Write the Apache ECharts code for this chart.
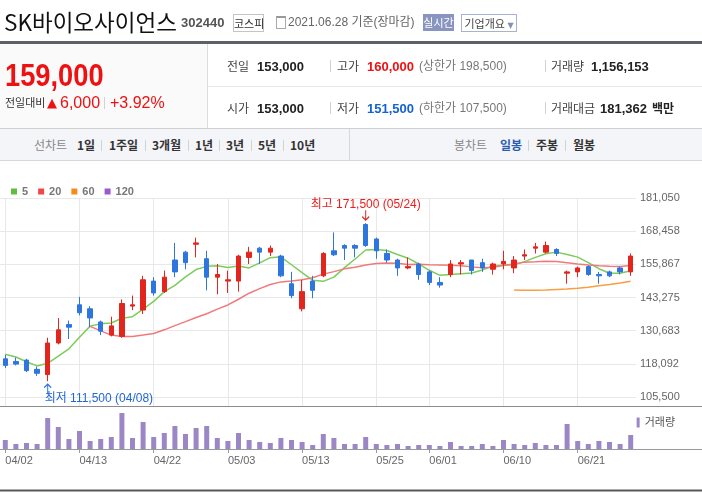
<!DOCTYPE html>
<html lang="ko">
<head>
<meta charset="utf-8">
<title>SK바이오사이언스 일봉 차트</title>
<script src="https://cdn.jsdelivr.net/npm/echarts@6/dist/echarts.min.js"></script>
<style>
html,body{margin:0;padding:0;background:#fff;}
body{position:relative;width:702px;height:493px;overflow:hidden;font-family:'Liberation Sans','Noto Sans CJK KR',sans-serif;color:#333;}
#chart{position:absolute;left:0;top:0;width:702px;height:493px;z-index:1;}
.box{position:absolute;z-index:2;}
.t{position:absolute;z-index:3;white-space:nowrap;line-height:1;}
.sep{position:absolute;z-index:3;width:1px;background:#d2d2d2;}
.b{font-weight:bold;}
.k{font-family:'Noto Sans CJK KR',sans-serif;}
</style>
</head>
<body>
<div id="chart"></div>

<!-- title row -->
<div class="t k" style="left:4px;top:10px;font-size:22.5px;color:#111;">SK바이오사이언스</div>
<div class="t b" style="left:181px;top:16px;font-size:13px;color:#555;">302440</div>
<div class="t k" style="left:233px;top:14px;width:29px;height:16px;border:1px solid #c4c4c4;font-size:11px;line-height:16px;text-align:center;color:#333;">코스피</div>
<div class="box" style="left:276px;top:16px;width:8px;height:10px;border:1px solid #aaa;border-top:2px solid #999;"></div>
<div class="t" style="left:288px;top:16px;font-size:12px;color:#666;">2021.06.28 기준(장마감)</div>
<div class="t k" style="left:423px;top:14px;width:31px;height:17px;background:#8995c0;font-size:11px;line-height:17px;text-align:center;color:#fff;">실시간</div>
<div class="t k" style="left:461px;top:14px;width:54px;height:16px;border:1px solid #a9b1d0;font-size:11px;line-height:16px;text-align:center;color:#444;">기업개요<span style="font-family:'DejaVu Sans';font-size:8px;color:#8890b0;"> ▼</span></div>
<div class="box" style="left:0;top:41px;width:702px;height:3px;background:#5d6067;"></div>

<!-- price block -->
<div class="box" style="left:0;top:44px;width:207px;height:84px;background:#fafafa;border-right:1px solid #dcdcdc;"></div>
<div class="t b" style="left:5px;top:60px;font-size:31px;color:#ee1111;transform:scaleX(0.88);transform-origin:left top;">159,000</div>
<div class="t k" style="left:5px;top:97px;font-size:11px;color:#333;">전일대비</div>
<div class="t" style="left:47px;top:96px;font-size:13px;color:#ee1111;font-family:'DejaVu Sans';">▲</div>
<div class="t" style="left:60px;top:95px;font-size:16px;color:#ee1111;">6,000</div>
<div class="sep" style="left:104px;top:97px;height:12px;"></div>
<div class="t" style="left:110px;top:95px;font-size:16px;color:#ee1111;">+3.92%</div>

<div class="box" style="left:208px;top:86px;width:494px;height:1px;background:#e6e6e6;"></div>
<div class="box" style="left:0;top:128px;width:702px;height:1px;background:#cfcfcf;"></div>

<div class="t k" style="left:227px;top:60px;font-size:12px;color:#444;">전일</div>
<div class="t b" style="left:257px;top:59.5px;font-size:13px;color:#222;">153,000</div>
<div class="sep" style="left:330px;top:60px;height:12px;"></div>
<div class="t k" style="left:337px;top:60px;font-size:12px;color:#444;">고가</div>
<div class="t b" style="left:367px;top:59.5px;font-size:13px;color:#ee1111;">160,000</div>
<div class="t" style="left:419px;top:60px;font-size:12px;color:#777;">(상한가 198,500)</div>
<div class="sep" style="left:545px;top:60px;height:12px;"></div>
<div class="t k" style="left:551px;top:60px;font-size:12px;color:#444;">거래량</div>
<div class="t b" style="left:591px;top:59.5px;font-size:13px;color:#222;">1,156,153</div>

<div class="t k" style="left:227px;top:102px;font-size:12px;color:#444;">시가</div>
<div class="t b" style="left:257px;top:101.5px;font-size:13px;color:#222;">153,000</div>
<div class="sep" style="left:330px;top:102px;height:12px;"></div>
<div class="t k" style="left:337px;top:102px;font-size:12px;color:#444;">저가</div>
<div class="t b" style="left:367px;top:101.5px;font-size:13px;color:#1462d6;">151,500</div>
<div class="t" style="left:419px;top:102px;font-size:12px;color:#777;">(하한가 107,500)</div>
<div class="sep" style="left:545px;top:102px;height:12px;"></div>
<div class="t k" style="left:551px;top:102px;font-size:12px;color:#444;">거래대금</div>
<div class="t b" style="left:600px;top:101.5px;font-size:13px;color:#222;">181,362</div>
<div class="t k b" style="left:652px;top:102px;font-size:12px;color:#222;">백만</div>

<!-- tab bar -->
<div class="box" style="left:0;top:129px;width:702px;height:31px;background:#f4f5f8;border-bottom:1px solid #d8d8d8;"></div>
<div class="box" style="left:349px;top:129px;width:1px;height:31px;background:#d8d8d8;z-index:3;"></div>
<div class="t k" style="left:34px;top:139px;font-size:12px;color:#888;">선차트</div>
<div class="t k b" style="left:77px;top:139px;font-size:12px;color:#333;">1일</div>
<div class="sep" style="left:101px;top:140px;height:11px;"></div>
<div class="t k b" style="left:109px;top:139px;font-size:12px;color:#333;">1주일</div>
<div class="sep" style="left:145px;top:140px;height:11px;"></div>
<div class="t k b" style="left:152px;top:139px;font-size:12px;color:#333;">3개월</div>
<div class="sep" style="left:188px;top:140px;height:11px;"></div>
<div class="t k b" style="left:195px;top:139px;font-size:12px;color:#333;">1년</div>
<div class="sep" style="left:219px;top:140px;height:11px;"></div>
<div class="t k b" style="left:226px;top:139px;font-size:12px;color:#333;">3년</div>
<div class="sep" style="left:251px;top:140px;height:11px;"></div>
<div class="t k b" style="left:258px;top:139px;font-size:12px;color:#333;">5년</div>
<div class="sep" style="left:283px;top:140px;height:11px;"></div>
<div class="t k b" style="left:290px;top:139px;font-size:12px;color:#333;">10년</div>
<div class="t k" style="left:454px;top:139px;font-size:12px;color:#888;">봉차트</div>
<div class="t k b" style="left:500px;top:139px;font-size:12px;color:#2a5db0;">일봉</div>
<div class="sep" style="left:528px;top:140px;height:11px;"></div>
<div class="t k b" style="left:536px;top:139px;font-size:12px;color:#333;">주봉</div>
<div class="sep" style="left:565px;top:140px;height:11px;"></div>
<div class="t k b" style="left:573px;top:139px;font-size:12px;color:#333;">월봉</div>

<script>
// ---- data ----
const dates = ['04/02','04/05','04/06','04/07','04/08','04/09','04/12','04/13','04/14','04/15','04/16','04/19','04/20','04/21','04/22','04/23','04/26','04/27','04/28','04/29','04/30',
  '05/03','05/04','05/06','05/07','05/10','05/11','05/12','05/13','05/14','05/17','05/18','05/20','05/21','05/24','05/25','05/26','05/27','05/28','05/31',
  '06/01','06/02','06/03','06/04','06/07','06/08','06/09','06/10','06/11','06/14','06/15','06/16','06/17','06/18','06/21','06/22','06/23','06/24','06/25','06/28'];
const opens = [120000,119000,119500,116000,114000,126000,133000,140500,139000,134000,129000,128500,140000,138500,149500,145500,157500,160500,163500,158000,151000,
  149500,149500,158500,162000,160500,159000,148500,139000,149500,151500,161000,163000,163000,171000,165500,160000,157500,154500,156000,
  153000,149000,152000,156000,157500,156500,154000,156000,154500,159000,162000,160500,161500,152500,153000,155000,152000,153000,154500,153000];
const highs = [121500,120500,120000,117000,128000,135500,134500,143500,140000,134500,136000,142500,144000,151500,151000,153500,164000,161000,166000,161000,156000,
  153500,159500,162500,162500,163000,159500,153000,150000,151500,160500,168000,163500,163500,171500,166000,161500,158000,158500,156500,
  153500,151000,157500,157500,157500,158000,156500,161000,159000,161500,164000,164500,162000,153500,155000,155500,153000,153500,155000,160000];
const lows = [116500,117500,115000,113500,111500,125500,127500,136500,132000,129000,128500,128000,138500,137000,144000,145000,151000,154000,158500,146000,144500,
  145000,145500,156000,156000,159000,151000,143000,138000,143000,151000,159000,157500,158500,162500,158000,156500,151500,154000,150000,
  148000,147000,151000,152000,152000,153000,152000,154000,152500,157500,160000,160000,159000,148500,151000,151500,148500,151000,152000,151500];
const closes = [117500,118000,115500,114500,126000,131000,132000,137500,135500,130500,132500,141000,140500,150000,145000,151000,153000,156500,164000,151000,152000,
  150000,159000,160500,160500,162000,151500,144000,145500,146000,160000,159500,162000,162000,163000,161000,157500,154500,155000,152000,
  149000,148000,156000,156500,153500,154500,156000,157000,157500,159500,162500,163000,160000,153000,154500,152000,151500,151500,153000,159000];
const volumes = [743000,413000,496000,413000,2560000,1817000,826000,1487000,661000,826000,991000,2974000,909000,2230000,991000,1322000,1900000,1239000,1735000,1900000,909000,
  661000,1322000,743000,578000,496000,909000,743000,578000,330000,1239000,909000,413000,413000,991000,413000,330000,413000,248000,330000,
  330000,248000,578000,248000,248000,413000,248000,743000,413000,330000,496000,330000,330000,2065000,661000,413000,661000,578000,413000,1156153];
const ma5 = [121700,120700,118900,117300,118300,121000,123800,128200,132400,133300,133600,135400,136000,138900,141800,145500,147900,151100,153900,155100,155300,
  154700,155200,154500,156400,158400,158700,155700,152700,149800,149400,151000,154600,157900,161300,161500,161100,159600,158200,156000,
  153600,151700,152000,152300,152600,153700,155300,155500,155700,156900,158500,159900,160500,159600,158600,156500,154200,152500,152500,153400];
const ma20 = ['-','-','-','-','-','-','-','-',132300,130600,129000,128500,128500,129000,129600,131000,132600,134100,135700,137100,138850,
  140450,142600,144900,146650,148200,149200,149500,150000,150800,152150,153100,154150,154750,155650,156150,156400,156300,155800,155900,
  155700,155600,155500,155300,154900,154550,154800,155400,156000,156700,156800,157000,156900,156450,156000,155600,155300,155100,155000,155400];
const ma60 = ['-','-','-','-','-','-','-','-','-','-','-','-','-','-','-','-','-','-','-','-','-',
  '-','-','-','-','-','-','-','-','-','-','-','-','-','-','-','-','-','-','-',
  '-','-','-','-','-','-','-','-',146100,146000,146000,146100,146300,146500,146800,147200,147700,148200,148800,149450];
const ma120 = [];
const yTicks = [105500,118092,130683,143275,155867,168458,181050];
const xTicks = ['04/02','04/13','04/22','05/03','05/13','05/25','06/01','06/10','06/21'];
const priceAxisMin = 102080;
const volumeAxisMax = 3390000;

// ---- chart ----
const RED = '#e2261e', BLUE = '#2e76de';
const FONT = "'Liberation Sans','Noto Sans CJK KR',sans-serif";
const fmt = v => Math.round(v).toLocaleString('en-US');
const showTick = (i, v) => xTicks.indexOf(v) !== -1;
const candles = dates.map((d, i) => [opens[i], closes[i], lows[i], highs[i]]);
const hiIdx = highs.indexOf(Math.max.apply(null, highs));
const loIdx = lows.indexOf(Math.min.apply(null, lows));
const downArrow = 'path://M3.5,0L3.5,10M0,6.5L3.5,10L7,6.5';
const upArrow = 'path://M3.5,10L3.5,0M0,3.5L3.5,0L7,3.5';

const chart = echarts.init(document.getElementById('chart'));
chart.setOption({
  animation: false,
  textStyle: { fontFamily: FONT },
  grid: [
    { left: 0, right: 66, top: 198, height: 208 },
    { left: 0, right: 66, top: 408, height: 41 }
  ],
  legend: [
    { data: ['5','20','60','120'], left: 6, top: 181, icon: 'rect', itemWidth: 6, itemHeight: 6, itemGap: 10,
      selectedMode: false, textStyle: { color: '#777', fontSize: 11, fontWeight: 'bold', fontFamily: FONT } },
    { data: ['거래량'], right: 22, top: 412, icon: 'rect', itemWidth: 3, itemHeight: 10, itemGap: 4,
      selectedMode: false, textStyle: { color: '#555', fontSize: 11, fontFamily: FONT } }
  ],
  xAxis: [
    { type: 'category', gridIndex: 0, data: dates, boundaryGap: true,
      axisLine: { show: false }, axisTick: { show: false }, axisLabel: { show: false },
      splitLine: { show: true, interval: showTick, alignWithLabel: true, lineStyle: { color: '#e8e8e8' } } },
    { type: 'category', gridIndex: 1, data: dates, boundaryGap: true,
      axisLine: { show: false },
      axisTick: { show: true, interval: showTick, alignWithLabel: true, length: 4, lineStyle: { color: '#999' } },
      axisLabel: { interval: showTick, align: 'left', color: '#666', fontSize: 11, margin: 6, fontFamily: FONT },
      splitLine: { show: false } }
  ],
  yAxis: [
    { type: 'value', gridIndex: 0, position: 'right', min: priceAxisMin, max: yTicks[yTicks.length - 1],
      axisLine: { show: false }, axisTick: { show: false, customValues: yTicks },
      axisLabel: { customValues: yTicks, formatter: fmt, color: '#666', fontSize: 11, margin: 4, fontFamily: FONT },
      splitLine: { show: true, lineStyle: { color: '#e8e8e8' } } },
    { type: 'value', gridIndex: 1, min: 0, max: volumeAxisMax, show: false, splitLine: { show: false } }
  ],
  graphic: [
    { type: 'line', silent: true, z: 10, shape: { x1: 0, y1: 406.5, x2: 702, y2: 406.5 }, style: { stroke: '#8c8c8c', lineWidth: 1 } },
    { type: 'line', silent: true, z: 10, shape: { x1: 0, y1: 449.5, x2: 702, y2: 449.5 }, style: { stroke: '#9a9a9a', lineWidth: 1 } },
    { type: 'line', silent: true, z: 10, shape: { x1: 0, y1: 490.5, x2: 702, y2: 490.5 }, style: { stroke: '#58595c', lineWidth: 2 } }
  ],
  series: [
    { name: '5', type: 'line', xAxisIndex: 0, yAxisIndex: 0, data: ma5, symbol: 'none', z: 2,
      itemStyle: { color: '#5fbf3d' }, lineStyle: { color: '#7ccc5c', width: 1.5 } },
    { name: '20', type: 'line', xAxisIndex: 0, yAxisIndex: 0, data: ma20, symbol: 'none', z: 2,
      itemStyle: { color: '#ef4646' }, lineStyle: { color: '#f07a7a', width: 1.5 } },
    { name: '60', type: 'line', xAxisIndex: 0, yAxisIndex: 0, data: ma60, symbol: 'none', z: 2,
      itemStyle: { color: '#f58a1f' }, lineStyle: { color: '#f6a042', width: 1.5 } },
    { name: '120', type: 'line', xAxisIndex: 0, yAxisIndex: 0, data: ma120, symbol: 'none', z: 2,
      itemStyle: { color: '#9b59d0' }, lineStyle: { color: '#9b59d0', width: 1.5 } },
    { name: '일봉', type: 'candlestick', xAxisIndex: 0, yAxisIndex: 0, data: candles, barWidth: 5, z: 3,
      itemStyle: { color: RED, color0: BLUE, borderColor: RED, borderColor0: BLUE, borderWidth: 1 },
      markPoint: {
        silent: true,
        data: [
          { name: 'high', coord: [hiIdx, highs[hiIdx]], symbol: downArrow, symbolSize: [7, 10], symbolOffset: [0, -8],
            itemStyle: { color: 'rgba(0,0,0,0)', borderColor: RED, borderWidth: 1.2 },
            label: { show: true, position: 'top', distance: -1, color: '#ec1c1c', fontSize: 12, fontFamily: FONT,
              formatter: '최고 ' + fmt(highs[hiIdx]) + ' (' + dates[hiIdx] + ')' } },
          { name: 'low', coord: [loIdx, lows[loIdx]], symbol: upArrow, symbolSize: [7, 10], symbolOffset: [0, 8],
            itemStyle: { color: 'rgba(0,0,0,0)', borderColor: BLUE, borderWidth: 1.2 },
            label: { show: true, position: 'bottom', distance: -2, align: 'left', offset: [-3, 0], color: '#1f66d6', fontSize: 12, fontFamily: FONT,
              formatter: '최저 ' + fmt(lows[loIdx]) + ' (' + dates[loIdx] + ')' } }
        ]
      } },
    { name: '거래량', type: 'bar', xAxisIndex: 1, yAxisIndex: 1, data: volumes, barWidth: 5,
      itemStyle: { color: '#9b86c6' } }
  ]
});
</script>
</body>
</html>
